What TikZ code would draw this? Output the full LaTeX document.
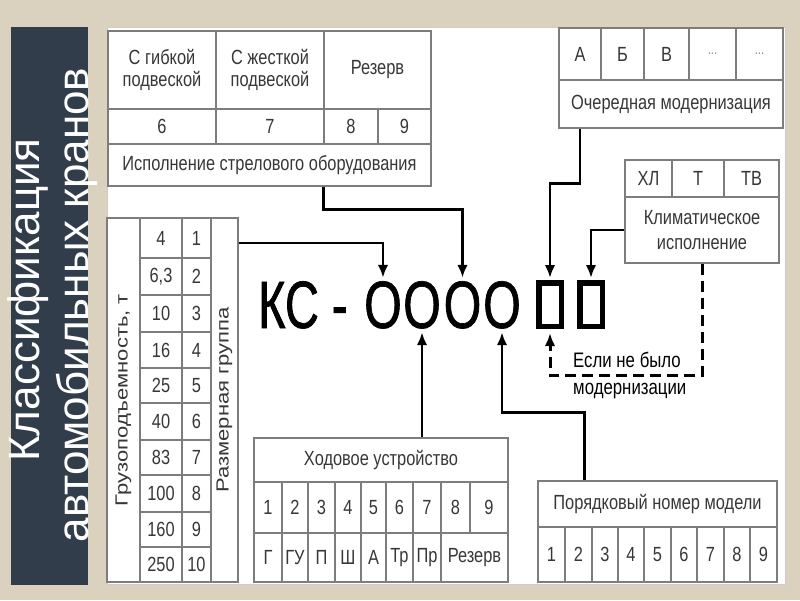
\documentclass[tikz,border=0pt]{standalone}
\usepackage{graphicx}
\usepackage{fontspec}
\setmainfont{Liberation Sans}[FakeStretch=0.8]
\newfontfamily\plainfont{Liberation Sans}
\newfontfamily\bigfont{Liberation Sans}[FakeStretch=0.7,FakeBold=1]
\newfontfamily\bigOfont{Liberation Sans}[FakeStretch=0.72,FakeBold=1]
\usetikzlibrary{arrows.meta,calc}
\definecolor{bgbeige}{RGB}{218,209,190}
\definecolor{panelblue}{RGB}{50,61,76}
\definecolor{gridgray}{RGB}{125,125,125}
\definecolor{txtgray}{RGB}{55,55,55}
\newcommand{\cellnode}[6][]{%
  \node[cellbox,#1,minimum width={(#4-#2)*1pt},minimum height={(#5-#3)*1pt}] (#6) at ({(#2+#4)/2},{(#3+#5)/2})}
\newcommand{\rotsq}[1]{\scalebox{1}[0.8]{#1}}
\begin{document}
\begin{tikzpicture}[x=1pt,y=-1pt,
  cellbox/.style={draw=gridgray,line width=1.1pt,inner sep=0pt,text=txtgray,align=center,
    font=\fontsize{20.5}{22.5}\selectfont},
  rotcell/.style={cellbox,rotate=90,font=\plainfont\fontsize{22}{24}\selectfont},
  titletext/.style={rotate=90,anchor=base,inner sep=0pt,text=white,font=\plainfont\fontsize{44}{48}\selectfont},
  bigtext/.style={inner sep=0pt,text=black,font=\bigfont\fontsize{67}{70}\selectfont},
  bigO/.style={inner sep=0pt,text=black,font=\bigOfont\fontsize{67}{70}\selectfont,anchor=base,text height=48pt,text depth=0pt},
  sqbox/.style={draw=black,line width=5.5pt,minimum width=22.5pt,minimum height=43.5pt,inner sep=0pt},
  arrowline/.style={draw=black,line width=2.8pt,-{Latex[length=13pt,width=10.5pt]},shorten >=2pt},
  dashline/.style={draw=black,line width=3pt,dash pattern=on 11pt off 6pt,-{Latex[length=13pt,width=10.5pt]},shorten >=4pt},
  notetext/.style={inner sep=0pt,text=black,align=left,font=\fontsize{21}{27}\selectfont}
]
\useasboundingbox (0,0) rectangle (800,600);
\fill[bgbeige] (0,0) rectangle (800,600);
\fill[panelblue] (11,27) rectangle (88,585);
\filldraw[fill=white,draw=gray!40,line width=0.8pt] (107,27) rectangle (785,584);

% title
\node[titletext] (title1) at (39,300) {Классификация};
\node[titletext] (title2) at (88,305) {автомобильных кранов};

% top-left table
\cellnode{108}{31}{216}{109}{tl-a} {С гибкой\\подвеской};
\cellnode{216}{31}{324}{109}{tl-b} {С жесткой\\подвеской};
\cellnode{324}{31}{431}{109}{tl-c} {Резерв};
\cellnode{108}{109}{216}{144}{tl-6} {6};
\cellnode{216}{109}{324}{144}{tl-7} {7};
\cellnode{324}{109}{378}{144}{tl-8} {8};
\cellnode{378}{109}{431}{144}{tl-9} {9};
\cellnode{108}{144}{431}{186}{tl-name} {Исполнение стрелового оборудования};

% top-right table
\cellnode{559}{28}{601}{80}{om-a} {А};
\cellnode{601}{28}{644}{80}{om-b} {Б};
\cellnode{644}{28}{689}{80}{om-c} {В};
\cellnode[text=gray,font=\fontsize{14}{16}\selectfont]{689}{28}{736}{80}{om-d} {...};
\cellnode[text=gray,font=\fontsize{14}{16}\selectfont]{736}{28}{783}{80}{om-e} {...};
\cellnode{559}{80}{783}{128}{om-name} {Очередная модернизация};

% climatic table
\cellnode{625}{160}{672}{197}{cl-a} {ХЛ};
\cellnode{672}{160}{724}{197}{cl-b} {Т};
\cellnode{724}{160}{779}{197}{cl-c} {ТВ};
\cellnode[font=\fontsize{20.5}{25}\selectfont]{625}{197}{779}{263}{cl-name} {Климатическое\\исполнение};

% left table
\node[rotcell,minimum width=364pt,minimum height=33pt] (lt-g) at (123.5,400) {\rotsq{Грузоподъемность, т}};
\node[rotcell,minimum width=364pt,minimum height=27pt] (lt-rg) at (224.5,400) {\rotsq{Размерная группа}};
\foreach \ya/\yb/\v/\n in {218/258/4/1,258/295/{6,3}/2,295/332/10/3,332/368/16/4,368/403/25/5,
  403/440/40/6,440/475/83/7,475/512/100/8,512/547/160/9,547/582/250/10}{
  \cellnode{140}{\ya}{182}{\yb}{lt-c\n} {\v};
  \cellnode{182}{\ya}{211}{\yb}{lt-n\n} {\n};
}

% running gear table
\cellnode{254}{438}{508}{482}{hod-name} {Ходовое устройство};
\foreach \xa/\xb/\n in {254/282/1,282/308/2,308/335/3,335/361/4,361/386/5,386/413/6,413/441/7,441/470/8,470/508/9}{
  \cellnode{\xa}{482}{\xb}{533}{hod-n\n} {\n};
}
\foreach \xa/\xb/\t/\n in {254/282/Г/1,282/308/ГУ/2,308/335/П/3,335/361/Ш/4,361/386/А/5,386/413/Тр/6,413/441/Пр/7,441/508/Резерв/8}{
  \cellnode{\xa}{533}{\xb}{582}{hod-t\n} {\t};
}

% model number table
\cellnode{538}{481}{777}{527}{por-name} {Порядковый номер модели};
\foreach \xa/\xb/\n in {538/565/1,565/592/2,592/618/3,618/644/4,644/671/5,671/697/6,697/724/7,724/750/8,750/777/9}{
  \cellnode{\xa}{527}{\xb}{582}{por-n\n} {\n};
}

% designation
\node[bigtext,anchor=base west] (ks) at (258,328) {КС -};
\node[bigO] (o1) at (383,328) {О};
\node[bigO] (o2) at (422,328) {О};
\node[bigO] (o3) at (462.5,328) {О};
\node[bigO] (o4) at (502,328) {О};
\node[sqbox] (sq1) at (550,304.5) {};
\node[sqbox] (sq2) at (591,304.5) {};

\node[notetext,anchor=west] (note) at (573,375) {Если не было\\модернизации};

% connectors
\draw[arrowline] ($(lt-n1.east -| lt-rg.south)+(0,5)$) -| (o1.north);
\draw[arrowline] (tl-c.west |- tl-name.south) -- ++(0,23) -| (o3.north);
\draw[arrowline] (om-a |- om-name.south) -- ++(0,55) -| (sq1.north);
\draw[arrowline] (cl-name.west) -| (sq2.north);
\draw[dashline] (cl-name.south) -- ++(0,112) -| (sq1.south);
\draw[arrowline,shorten >=4pt] (o2.south |- hod-name.north) -- (o2.south);
\draw[arrowline,shorten >=4pt] ($(por-name.north west)+(47,0)$) -- ++(0,-68) -| (o4.south);
\end{tikzpicture}
\end{document}
